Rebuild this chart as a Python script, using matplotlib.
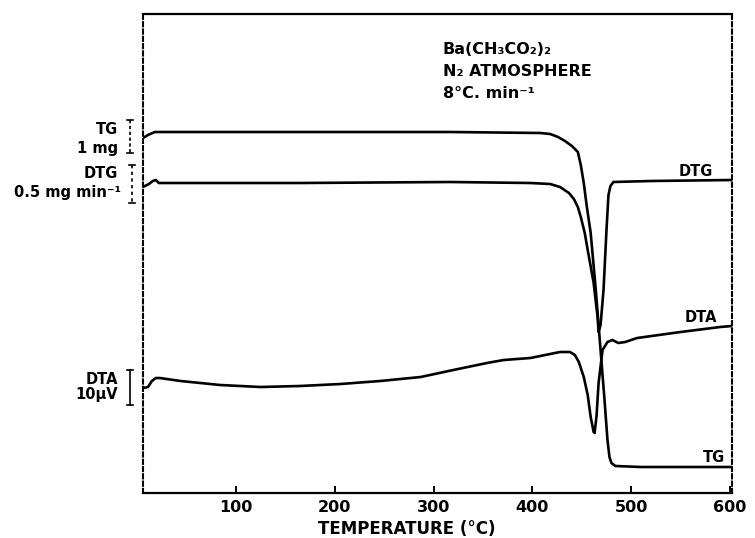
import matplotlib
matplotlib.use("Agg")
import matplotlib.pyplot as plt

# ---- data (temperature in degC, signal in arbitrary chart units) ----
tg_T = [6, 11, 18, 165, 317, 408, 418, 426, 433, 440, 446, 449, 452, 455, 459, 464, 469, 473, 476, 478, 480, 484, 510, 602]
tg_s = [355, 358, 361, 361, 361, 360, 359, 356, 352, 347, 341, 328, 310, 287, 260, 205, 143, 93, 53, 36, 30, 27, 26, 26]

dtg_T = [6, 12, 16, 19, 22, 165, 317, 398, 418, 428, 437, 442, 446, 449, 453, 456, 462, 466, 467, 469, 472,
         475, 477, 479, 482, 520, 602]
dtg_s = [306, 309, 312, 313, 310, 310, 311, 310, 309, 306, 300, 294, 286, 276, 260, 243, 210, 176, 161, 168, 203,
         263, 298, 307, 311, 312, 313]

dta_T = [6, 11, 15, 19, 23, 44, 84, 125, 165, 206, 246, 287, 320, 354, 371, 398, 428, 438, 443, 447, 452, 456, 459,
         462, 463, 465, 467, 471, 476, 481, 487, 494, 506, 550, 590, 602]
dta_s = [105, 106, 112, 115, 115, 112, 108, 106, 107, 109, 112, 116, 123, 130, 133, 135, 141, 141, 138, 131, 116, 98,
         76, 61, 60, 78, 110, 143, 151, 153, 150, 151, 155, 161, 166, 167]

xticks = [100, 200, 300, 400, 500, 600]
xticklabels = ["100", "200", "300", "400", "500", "600"]

title_lines = ["Ba(CH₃CO₂)₂", "N₂ ATMOSPHERE", "8°C. min⁻¹"]

W, H = 755, 538
fig = plt.figure(figsize=(W / 100, H / 100), dpi=100)
plt.rcParams['font.family'] = ['DejaVu Sans']

L, R, T, B = 143, 732, 14, 493
ax = fig.add_axes([L / W, 1 - B / H, (R - L) / W, (B - T) / H])
lw = 1.9
for xs, ys in [(tg_T, tg_s), (dtg_T, dtg_s), (dta_T, dta_s)]:
    ax.plot(xs, ys, color="black", lw=lw, solid_joinstyle="round", solid_capstyle="round")
ax.set_xlim(6, 602)
ax.set_ylim(0, 479)
ax.set_yticks([])
ax.set_xticks(xticks)
ax.set_xticklabels(xticklabels, fontsize=11.5, fontweight="bold")
ax.tick_params(axis="x", direction="in", length=5, width=1.4, pad=5)
for side in ["top", "bottom"]:
    ax.spines[side].set_linewidth(1.6)
for side in ["left", "right"]:
    ax.spines[side].set_linewidth(1.5)
    ax.spines[side].set_linestyle((0, (2, 1.5)))

# curve labels
ax.text(583, 322, "DTG", ha="right", va="center", fontsize=10.5, fontweight="bold")
ax.text(587, 175, "DTA", ha="right", va="center", fontsize=10.5, fontweight="bold")
ax.text(595, 36, "TG", ha="right", va="center", fontsize=10.5, fontweight="bold")

# overlay in pixel coordinates for annotations
ov = fig.add_axes([0, 0, 1, 1], facecolor="none")
ov.set_xlim(0, W)
ov.set_ylim(H, 0)
ov.axis("off")

for i, line in enumerate(title_lines):
    ov.text(443, 49 + 22 * i, line, ha="left", va="center", fontsize=11.5, fontweight="bold")

def bracket(x, y0, y1, ls="-"):
    ov.plot([x, x], [y0, y1], color="black", lw=1.2, ls=ls)
    ov.plot([x - 3, x + 3], [y0, y0], color="black", lw=1.2)
    ov.plot([x - 3, x + 3], [y1, y1], color="black", lw=1.2)

bracket(130, 120, 153, ls=(0, (2, 1.5)))
bracket(132, 165, 203, ls=(0, (2, 2)))
bracket(130, 370, 405)

fs = 10.5
ov.text(118, 130, "TG", ha="right", va="center", fontsize=fs, fontweight="bold")
ov.text(118, 148, "1 mg", ha="right", va="center", fontsize=fs, fontweight="bold")
ov.text(118, 174, "DTG", ha="right", va="center", fontsize=fs, fontweight="bold")
ov.text(121, 193, "0.5 mg min⁻¹", ha="right", va="center", fontsize=fs, fontweight="bold")
ov.text(118, 380, "DTA", ha="right", va="center", fontsize=fs, fontweight="bold")
ov.text(118, 395, "10µV", ha="right", va="center", fontsize=fs, fontweight="bold")

ov.text(407, 529, "TEMPERATURE (°C)", ha="center", va="center", fontsize=12, fontweight="bold")

fig.savefig("out.png", dpi=100)
